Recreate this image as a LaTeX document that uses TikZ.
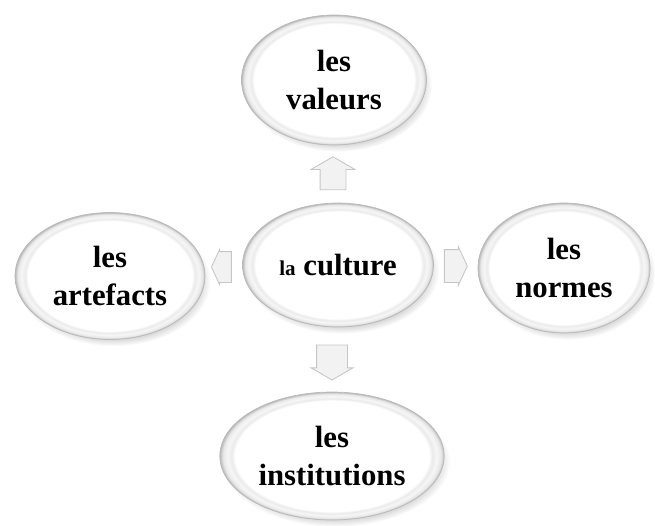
\documentclass[tikz,border=0pt]{standalone}
\usepackage{fontspec}
\setmainfont{Liberation Serif}
\usetikzlibrary{shapes.geometric,shapes.arrows,shadows}
\pgfdeclareradialshading{rim}{\pgfpoint{0bp}{0bp}}{color(0bp)=(white); color(21.6bp)=(white); color(22.4bp)=(gray!16); color(23.3bp)=(gray!7); color(24.3bp)=(gray!18); color(25bp)=(gray!55); color(50bp)=(gray!55)}

\begin{document}
\begin{tikzpicture}[x=0.02cm, y=-0.02cm]
\tikzstyle{every node}=[font=\bfseries\fontsize{17.5}{21.5}\selectfont, align=center]
\tikzstyle{bubble}=[ellipse, shading=rim, draw=gray!55, line width=0.4pt,
  circular drop shadow={shadow scale=1.02, shadow xshift=2pt, shadow yshift=-3pt, opacity=0.4}]
\tikzstyle{blockarrow}=[single arrow, fill=gray!10, draw=gray!45, line width=0.5pt,
  inner xsep=0pt, minimum width=0pt, single arrow tip angle=120]

\useasboundingbox (0,0) rectangle (655,525);

\node[blockarrow, rotate=90, minimum height=0.66cm, inner ysep=0.25cm,
  single arrow head extend=0.18cm] (up) at (333,177) {};
\node[blockarrow, rotate=-90, minimum height=0.70cm, inner ysep=0.30cm,
  single arrow head extend=0.11cm] (down) at (332,358) {};
\node[blockarrow, minimum height=0.46cm, inner ysep=0.32cm,
  single arrow head extend=0.06cm, single arrow tip angle=130] (right) at (452,266) {};
\node[blockarrow, rotate=180, minimum height=0.40cm, inner ysep=0.30cm,
  single arrow head extend=0.05cm, single arrow tip angle=130] (left) at (225,267) {};

\node[bubble, minimum width=3.70cm, minimum height=2.60cm] (valeurs) at (334,80) {les\\valeurs};
\node[bubble, minimum width=3.82cm, minimum height=2.48cm] (culture) at (338,265)
  {{\fontsize{12}{14}\selectfont la} culture};
\node[bubble, minimum width=3.80cm, minimum height=2.54cm] (artefacts) at (110,276) {les\\artefacts};
\node[bubble, minimum width=3.44cm, minimum height=2.60cm] (normes) at (564,268) {les\\normes};
\node[bubble, minimum width=4.26cm, minimum height=2.56cm] (institutions) at (332,456) {les\\institutions};

\end{tikzpicture}
\end{document}
